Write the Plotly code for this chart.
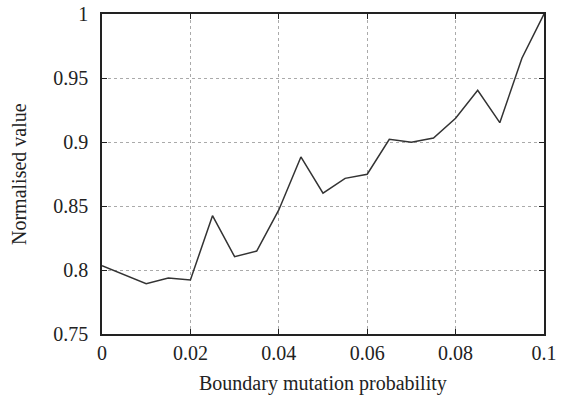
import plotly.graph_objects as go

x_values = [0.0, 0.005, 0.01, 0.015, 0.02, 0.025, 0.03, 0.035, 0.04, 0.045, 0.05,
            0.055, 0.06, 0.065, 0.07, 0.075, 0.08, 0.085, 0.09, 0.095, 0.1]
y_values = [0.8034, 0.7965, 0.7893, 0.7938, 0.7922, 0.8424, 0.8104, 0.8148, 0.8469, 0.8883, 0.8600,
            0.8716, 0.8748, 0.9021, 0.8998, 0.9031, 0.9185, 0.9404, 0.9151, 0.9654, 1.0]
x_ticks = [0, 0.02, 0.04, 0.06, 0.08, 0.1]
x_tick_labels = ["0", "0.02", "0.04", "0.06", "0.08", "0.1"]
y_ticks = [0.75, 0.8, 0.85, 0.9, 0.95, 1.0]
y_tick_labels = ["0.75", "0.8", "0.85", "0.9", "0.95", "1"]
x_title = "Boundary mutation probability"
y_title = "Normalised value"

font = dict(family="Liberation Serif, Times New Roman, serif", size=20, color="#222")

fig = go.Figure(go.Scatter(x=x_values, y=y_values, mode="lines",
                           line=dict(color="#333", width=1.5), showlegend=False,
                           hoverinfo="skip"))

axis_common = dict(showline=True, linecolor="#222", linewidth=1.5, mirror="allticks",
                   ticks="inside", ticklen=5, tickcolor="#222", tickwidth=1.2,
                   showgrid=True, gridcolor="#aaa", griddash="dot", gridwidth=1,
                   zeroline=False, tickfont=font, automargin=False,
                   ticklabeloverflow="allow")

fig.update_xaxes(range=[0, 0.1], tickvals=x_ticks, ticktext=x_tick_labels,
                 ticklabelstandoff=0, **axis_common)
fig.update_yaxes(range=[0.75, 1.0], tickvals=y_ticks, ticktext=y_tick_labels,
                 ticklabelstandoff=8, **axis_common)

fig.add_annotation(text=x_title, xref="paper", yref="paper", x=0.5, y=0,
                   yshift=-49, showarrow=False, font=font, yanchor="middle")
fig.add_annotation(text=y_title, xref="paper", yref="paper", x=0, y=0.5,
                   xshift=-83, showarrow=False, font=font, textangle=-90,
                   xanchor="center")

fig.update_layout(template="none", width=567, height=402,
                  margin=dict(l=102, r=23, t=14, b=68, autoexpand=False),
                  plot_bgcolor="white", paper_bgcolor="white", font=font)

# Remove the default page-body margin so the figure fills the window exactly.
fig.write_html("out.html", config={"displayModeBar": False},
               post_script="document.body.style.margin='0';")
